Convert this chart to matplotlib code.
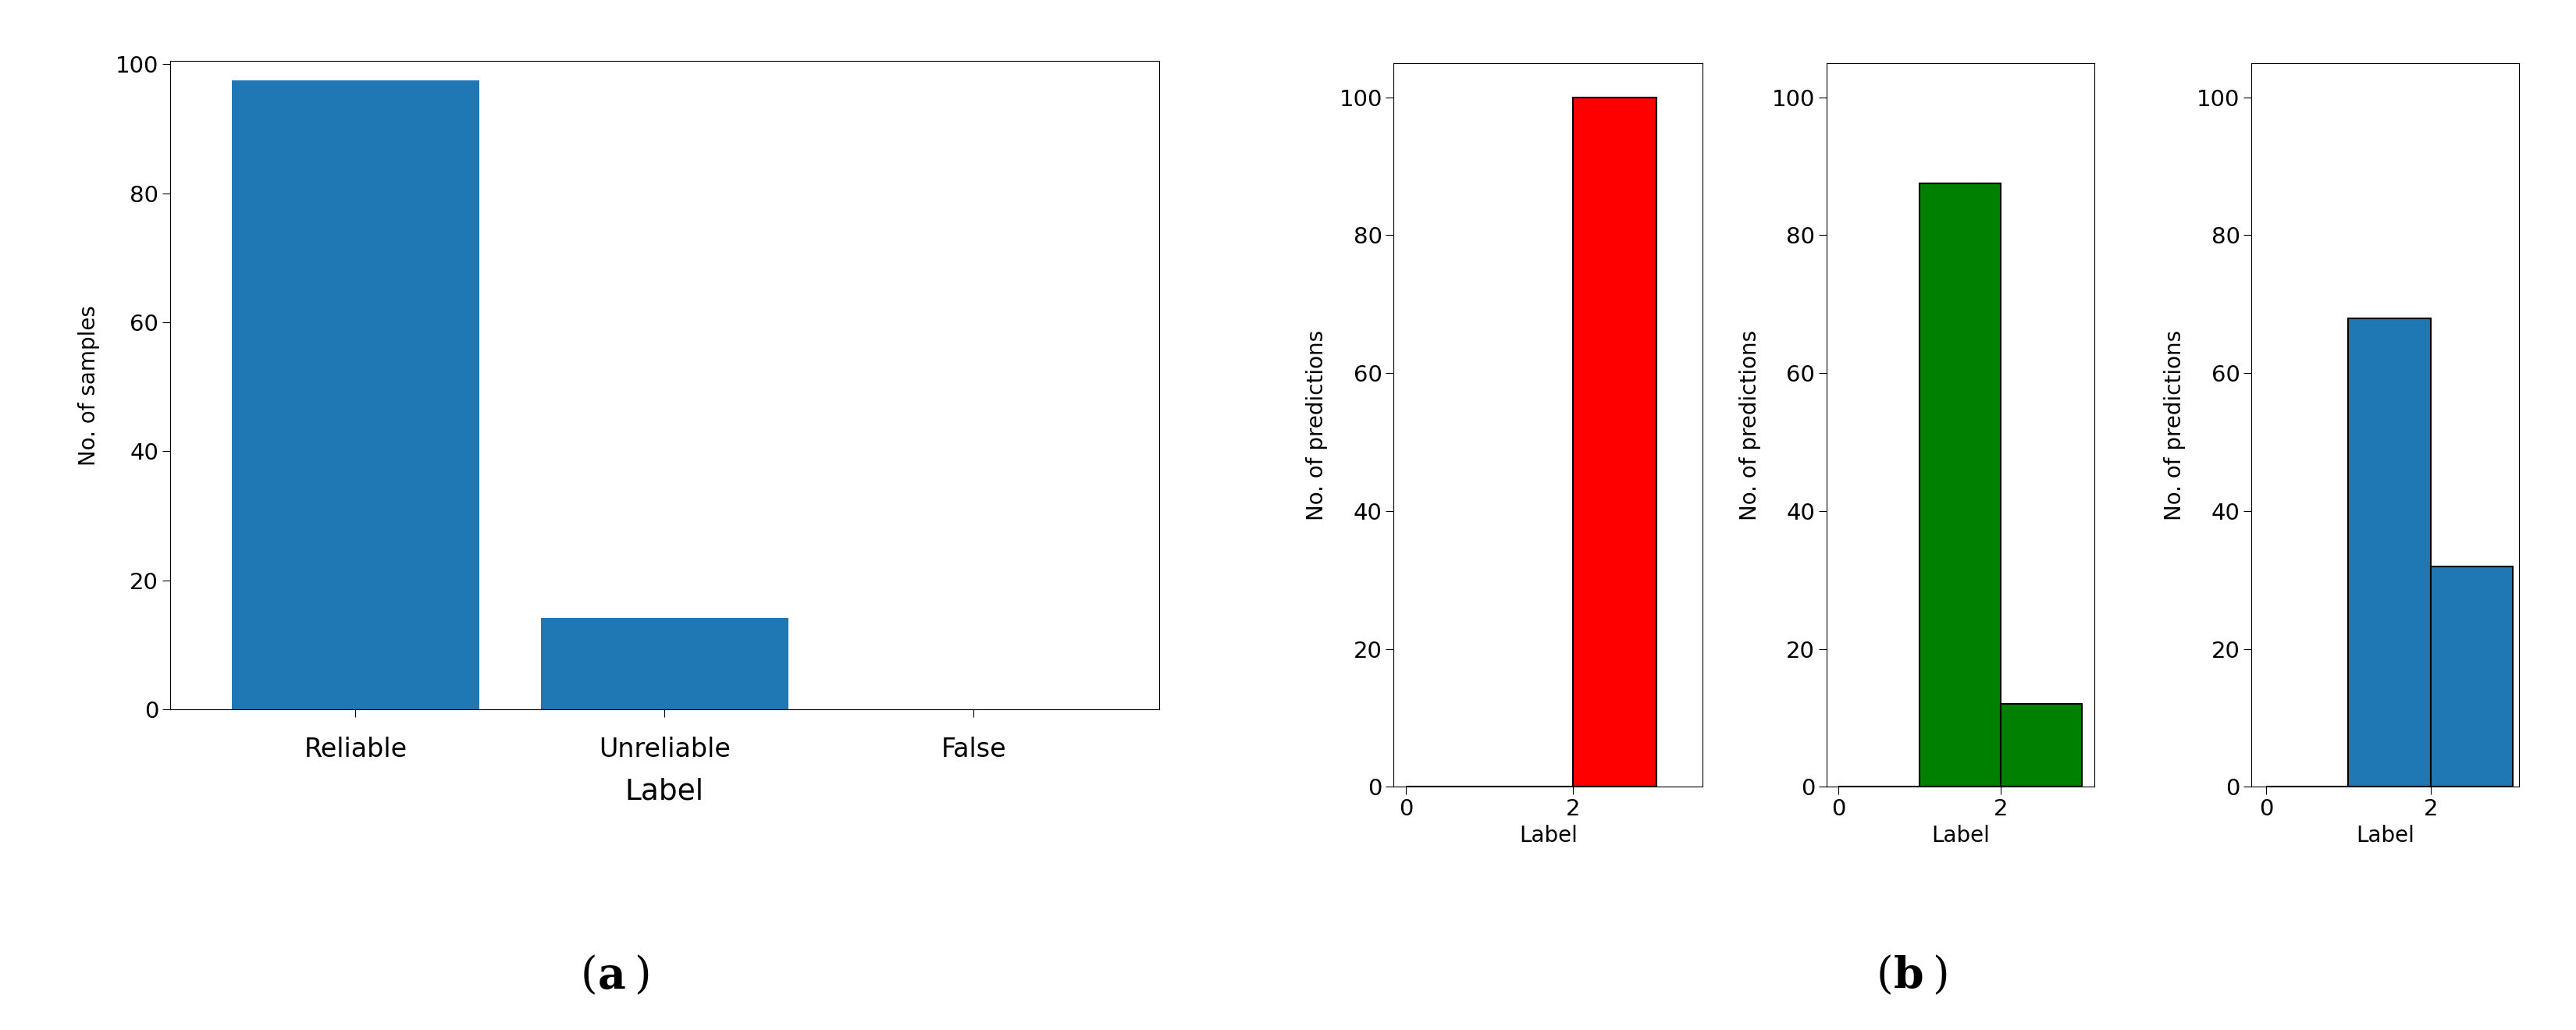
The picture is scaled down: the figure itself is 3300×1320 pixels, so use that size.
import matplotlib
matplotlib.use("Agg")
import matplotlib.pyplot as plt

cats = ["Reliable", "Unreliable", "False"]
counts = [97.5, 14.2, 0]
bins = [0, 1, 2, 3]
red_vals = [0, 0, 100]
green_vals = [0, 87.5, 12]
blue_vals = [0, 68, 32]

fig = plt.figure(figsize=(33, 13.2), dpi=100)
plt.rcParams['font.family'] = ['DejaVu Sans']

ax = fig.add_axes([0.066, 0.311, 0.384, 0.630])
ax.bar(cats, counts, width=0.8, color="#1f77b4")
ax.set_ylim(0, 100.5)
ax.set_xlim(-0.6, 2.6)
ax.set_ylabel("No. of samples", fontsize=20, labelpad=14)
ax.set_xlabel("Label", fontsize=27, labelpad=14)
ax.tick_params(axis='x', labelsize=24, pad=18, length=7)
ax.tick_params(axis='y', labelsize=21, length=7)

specs = [([0.541, 0.236, 0.120, 0.703], red_vals, "red", (-0.15, 3.55)),
         ([0.709, 0.236, 0.104, 0.703], green_vals, "green", (-0.15, 3.15)),
         ([0.874, 0.236, 0.104, 0.703], blue_vals, "#1f77b4", (-0.18, 3.08))]
for rect, vals, col, xl in specs:
    a = fig.add_axes(rect)
    a.bar(bins[:-1], vals[1:] if False else vals, width=1, align='edge',
          color=col, edgecolor='black', linewidth=1.5)
    a.set_ylim(0, 105)
    a.set_xlim(*xl)
    a.set_xticks([0, 2])
    a.set_ylabel("No. of predictions", fontsize=20, labelpad=10)
    a.set_xlabel("Label", fontsize=20)
    a.tick_params(labelsize=21, length=7)

fig.text(0.232, 0.052, "(", fontsize=40, family="DejaVu Serif", ha="right", va="center")
fig.text(0.232, 0.052, "a", fontsize=40, family="DejaVu Serif", weight="bold", ha="left", va="center")
fig.text(0.246, 0.052, ")", fontsize=40, family="DejaVu Serif", ha="left", va="center")
fig.text(0.735, 0.052, "(", fontsize=40, family="DejaVu Serif", ha="right", va="center")
fig.text(0.735, 0.052, "b", fontsize=40, family="DejaVu Serif", weight="bold", ha="left", va="center")
fig.text(0.750, 0.052, ")", fontsize=40, family="DejaVu Serif", ha="left", va="center")

fig.savefig("out.png", dpi=100)
